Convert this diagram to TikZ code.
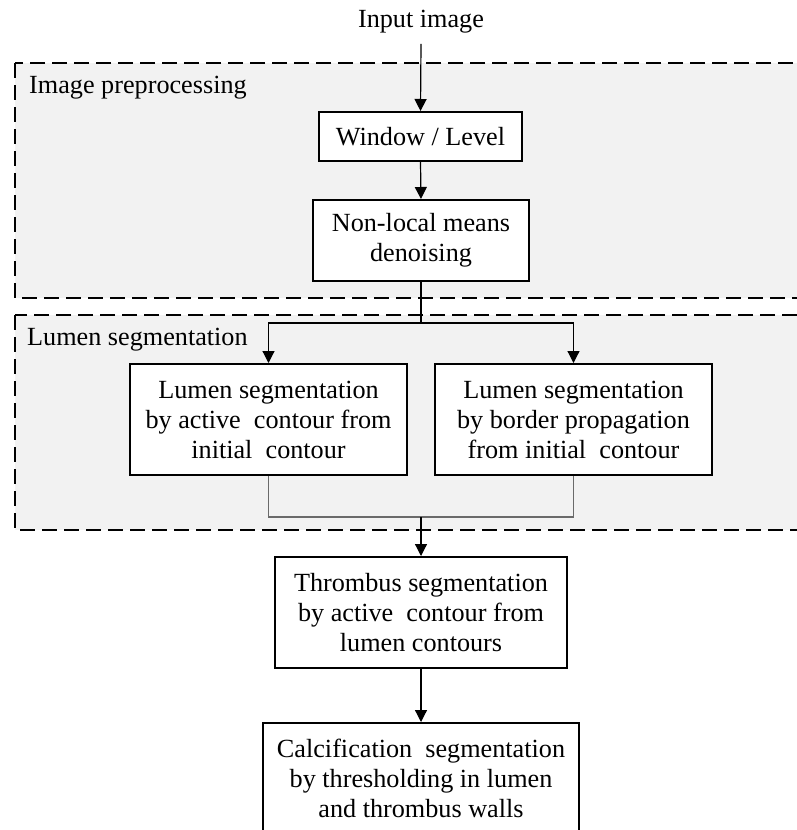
\documentclass[tikz,border=0pt]{standalone}
\usepackage{fontspec}
\setmainfont{Liberation Serif}
\usetikzlibrary{arrows.meta}
\definecolor{panelgray}{HTML}{F2F2F2}
\definecolor{joingray}{HTML}{6A6A6A}
\begin{document}
\begin{tikzpicture}[x=1pt,y=-1pt,
  font=\fontsize{26.2}{30}\selectfont,
  stepbox/.style={draw=black, fill=white, line width=2pt, align=center, inner sep=0pt},
  panel/.style={draw=black, fill=panelgray, line width=2.2pt, dash pattern=on 15pt off 7pt},
  conn/.style={draw=black, line width=1.2pt},
  arr/.style={conn, -{Triangle[width=12pt,length=12pt]}},
  joinline/.style={draw=joingray, line width=1.3pt},
  lab/.style={anchor=base west, inner sep=0pt}
]
\useasboundingbox (0,0) rectangle (797,830);
\clip (0,0) rectangle (797,830);
\fill[white] (0,0) rectangle (797,830);

% panels
\draw[panel] (15,63) rectangle (840,298);
\draw[panel] (15,315) rectangle (840,530);
\node[lab] (labpre) at (29,93) {Image preprocessing};
\node[lab] (labseg) at (27,345) {Lumen segmentation};

% nodes
\node[anchor=base, inner sep=11pt] (inp) at (421,27) {Input image};
\node[stepbox, minimum width=203pt, minimum height=49pt] (wl) at (420.5,136.5) {Window / Level};
\node[stepbox, minimum width=216pt, minimum height=81pt] (nl) at (421,240.5) {Non-local means\\denoising};
\node[stepbox, minimum width=277pt, minimum height=111pt] (lumL) at (268.5,419.5) {Lumen segmentation\\by active~ contour from\\initial~ contour};
\node[stepbox, minimum width=277pt, minimum height=111pt] (lumR) at (573.5,419.5) {Lumen segmentation\\by border propagation\\from initial~ contour};
\node[stepbox, minimum width=292pt, minimum height=111pt] (thr) at (421,612.5) {Thrombus segmentation\\by active~ contour from\\lumen contours};
\node[stepbox, minimum width=316pt, minimum height=111pt] (calc) at (421,778.5) {Calcification~ segmentation\\by thresholding in lumen\\and thrombus walls};

\coordinate (split) at (421,323);
\coordinate (join) at (421,517);

% connectors
\draw[arr] (inp.south) -- (wl.north);
\draw[arr] (wl.south) -- (nl.north);
\draw[conn] (nl.south) -- (split);
\draw[arr] (split) -| (lumL.north);
\draw[arr] (split) -| (lumR.north);
\draw[joinline] (lumL.south) |- (join);
\draw[joinline] (lumR.south) |- (join);
\draw[arr] (join) -- (thr.north);
\draw[arr] (thr.south) -- (calc.north);
\end{tikzpicture}
\end{document}
